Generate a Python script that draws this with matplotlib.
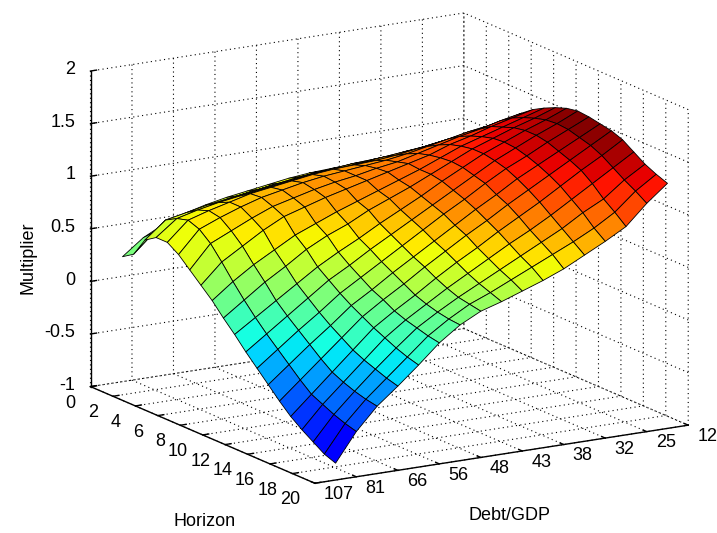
import numpy as np
import matplotlib
matplotlib.use("Agg")
import matplotlib.pyplot as plt
from matplotlib import colors
from mpl_toolkits.mplot3d import proj3d

# ---------------- data ----------------
horizon = [1, 2, 3, 4, 5, 6, 7, 8, 9, 10, 11, 12, 13, 14, 15, 16, 17, 18, 19, 20]
debt_pos = [1, 2, 3, 4, 5, 6, 7, 8, 9, 10, 11, 12, 13, 14, 15, 16, 17]

horizon_ticks = [0, 2, 4, 6, 8, 10, 12, 14, 16, 18, 20]
debt_tick_pos = [0, 2, 4, 6, 8, 10, 12, 14, 16, 18]
debt_tick_labels = ["107", "81", "66", "56", "48", "43", "38", "32", "25", "12"]
z_ticks = [-1, -0.5, 0, 0.5, 1, 1.5, 2]
z_tick_labels = ["-1", "-0.5", "0", "0.5", "1", "1.5", "2"]

# rows: horizon 1..20, columns: debt/GDP positions 1..17 (107 -> 12)
multiplier = [
    [0.25, 0.40, 0.50, 0.57, 0.62, 0.66, 0.69, 0.72, 0.75, 0.77, 0.78, 0.79, 0.79, 0.79, 0.79, 0.80, 0.80],
    [0.32, 0.50, 0.59, 0.64, 0.68, 0.72, 0.75, 0.78, 0.81, 0.83, 0.84, 0.85, 0.86, 0.87, 0.88, 0.90, 0.92],
    [0.50, 0.66, 0.70, 0.74, 0.77, 0.80, 0.83, 0.85, 0.88, 0.90, 0.92, 0.93, 0.94, 0.96, 0.98, 1.00, 1.02],
    [0.57, 0.72, 0.77, 0.81, 0.84, 0.87, 0.90, 0.93, 0.95, 0.96, 0.98, 1.00, 1.02, 1.04, 1.07, 1.09, 1.12],
    [0.57, 0.75, 0.81, 0.86, 0.91, 0.94, 0.97, 1.00, 1.02, 1.03, 1.04, 1.06, 1.09, 1.12, 1.15, 1.18, 1.21],
    [0.50, 0.71, 0.79, 0.86, 0.92, 0.96, 1.00, 1.03, 1.05, 1.07, 1.09, 1.12, 1.16, 1.20, 1.24, 1.27, 1.31],
    [0.40, 0.62, 0.71, 0.80, 0.88, 0.93, 0.98, 1.02, 1.05, 1.09, 1.12, 1.17, 1.22, 1.27, 1.31, 1.36, 1.40],
    [0.30, 0.49, 0.61, 0.73, 0.83, 0.89, 0.95, 1.00, 1.05, 1.10, 1.15, 1.20, 1.27, 1.32, 1.38, 1.43, 1.48],
    [0.20, 0.35, 0.48, 0.59, 0.70, 0.78, 0.86, 0.93, 1.00, 1.07, 1.14, 1.22, 1.30, 1.36, 1.42, 1.48, 1.54],
    [0.08, 0.22, 0.36, 0.48, 0.61, 0.71, 0.79, 0.89, 0.97, 1.05, 1.14, 1.23, 1.32, 1.39, 1.46, 1.52, 1.59],
    [-0.03, 0.10, 0.23, 0.36, 0.49, 0.60, 0.70, 0.81, 0.91, 1.01, 1.12, 1.22, 1.32, 1.40, 1.48, 1.55, 1.63],
    [-0.15, -0.01, 0.13, 0.27, 0.41, 0.52, 0.64, 0.75, 0.86, 0.97, 1.08, 1.19, 1.30, 1.39, 1.48, 1.56, 1.65],
    [-0.26, -0.11, 0.04, 0.18, 0.33, 0.45, 0.57, 0.69, 0.81, 0.93, 1.04, 1.16, 1.27, 1.36, 1.46, 1.55, 1.64],
    [-0.37, -0.21, -0.05, 0.10, 0.26, 0.38, 0.51, 0.63, 0.75, 0.87, 0.99, 1.10, 1.22, 1.32, 1.42, 1.52, 1.62],
    [-0.48, -0.31, -0.14, 0.03, 0.20, 0.33, 0.45, 0.58, 0.70, 0.82, 0.93, 1.05, 1.16, 1.27, 1.38, 1.49, 1.60],
    [-0.58, -0.40, -0.22, -0.04, 0.14, 0.27, 0.39, 0.52, 0.64, 0.75, 0.87, 0.98, 1.09, 1.21, 1.33, 1.44, 1.56],
    [-0.66, -0.45, -0.27, -0.09, 0.09, 0.23, 0.35, 0.47, 0.58, 0.69, 0.80, 0.90, 1.01, 1.13, 1.25, 1.37, 1.49],
    [-0.73, -0.50, -0.31, -0.13, 0.04, 0.20, 0.32, 0.43, 0.53, 0.63, 0.73, 0.83, 0.93, 1.05, 1.15, 1.30, 1.42],
    [-0.80, -0.54, -0.34, -0.17, 0.00, 0.17, 0.30, 0.41, 0.49, 0.58, 0.67, 0.76, 0.85, 0.95, 1.07, 1.24, 1.37],
    [-0.84, -0.57, -0.36, -0.20, -0.03, 0.15, 0.29, 0.39, 0.45, 0.52, 0.59, 0.67, 0.77, 0.87, 0.98, 1.17, 1.33],
]

# ---------------- style ----------------
plt.rcParams["font.family"] = ["Liberation Sans", "DejaVu Sans"]
plt.rcParams["grid.linestyle"] = (0, (1, 3))
plt.rcParams["grid.color"] = "black"
plt.rcParams["grid.linewidth"] = 0.8
FS = 13

fig = plt.figure(figsize=(7.17, 5.33), dpi=100)
ax = fig.add_axes([0.033, 0.021, 1.0, 1.0], projection="3d", proj_type="ortho")
ax.view_init(elev=15, azim=-31)
ax.set_box_aspect((4, 4, 3), zoom=1.27)

H, D = np.meshgrid(np.array(horizon, float), np.array(debt_pos, float), indexing="ij")
Z = np.array(multiplier, float)

# flat MATLAB-like shading: each face takes the colour of one corner vertex
norm = colors.Normalize(vmin=Z.min(), vmax=Z.max())
cmap = plt.get_cmap("jet")
Zc = np.concatenate([Z[:, 1:], Z[:, -1:]], axis=1)
face_cols = cmap(norm(Zc))
surf = ax.plot_surface(H, D, Z, facecolors=face_cols, edgecolor="black",
                       linewidth=0.6, shade=False, rstride=1, cstride=1,
                       antialiased=True)
surf.set_clip_on(False)

ax.set_xlim(0, 20)
ax.set_ylim(0, 18)
ax.set_zlim(-1, 2)

ax.set_xticks(horizon_ticks)
ax.set_yticks(debt_tick_pos)
ax.set_zticks(z_ticks)
ax.zaxis.set_ticks_position("lower")

for axis in (ax.xaxis, ax.yaxis, ax.zaxis):
    axis.set_pane_color((1, 1, 1, 0))
    axis.pane.set_edgecolor((1, 1, 1, 0))
    axis.line.set_color("black")
    axis.line.set_linewidth(1.0)
    axis.set_tick_params(label1On=False)
    axis._axinfo["tick"]["inward_factor"] = 0.0
    axis._axinfo["tick"]["outward_factor"] = 0.2
    axis._axinfo["tick"]["linewidth"] = {True: 1.0, False: 0.5}

# tick labels: project 3D anchor points through the axes' own projection
M = ax.get_proj()


def label_at(x, y, z, s, **kw):
    xp, yp, _ = proj3d.proj_transform(x, y, z, M)
    ax.text2D(xp, yp, s, transform=ax.transData, fontsize=FS, **kw)


for t in horizon_ticks:
    label_at(t, -0.72, -1.135, str(t), ha="right", va="center")
for pos, lab in zip(debt_tick_pos, debt_tick_labels):
    label_at(20.8, pos, -1.07, lab, ha="left", va="center")
for zt, lab in zip(z_ticks, z_tick_labels):
    label_at(0, -0.72, zt + 0.035, lab, ha="right", va="center")

fig.text(0.286, 0.021, "Horizon", fontsize=FS, ha="center", va="center")
fig.text(0.711, 0.032, "Debt/GDP", fontsize=FS, ha="center", va="center")
fig.text(0.039, 0.516, "Multiplier", fontsize=FS, ha="center", va="center", rotation=90)

fig.savefig("out.png", dpi=100)
